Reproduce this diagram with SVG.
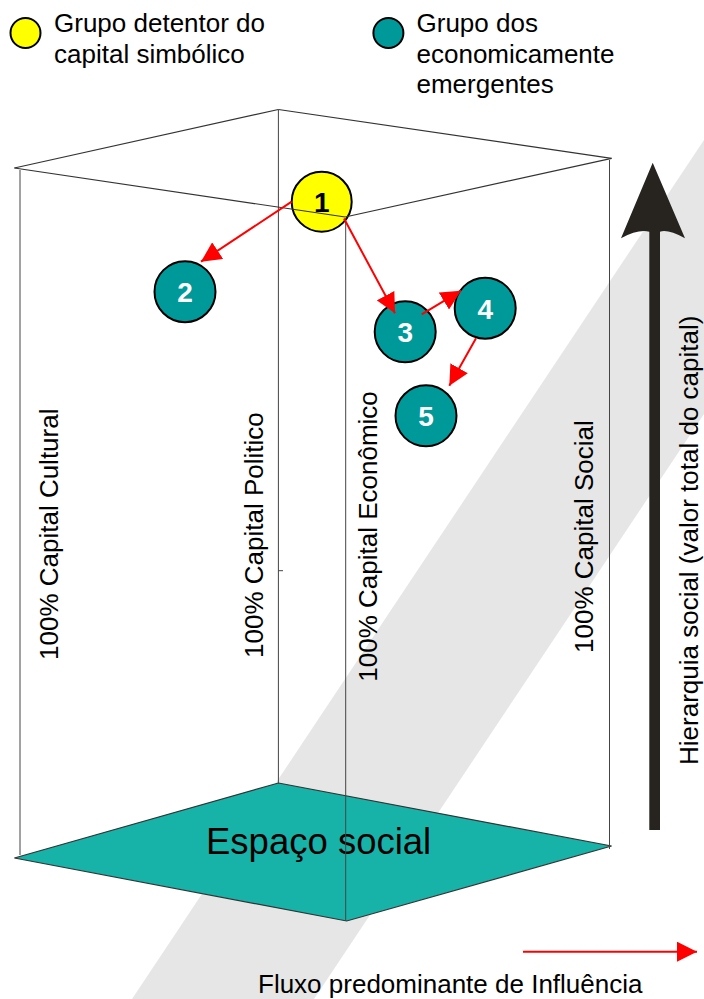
<svg xmlns="http://www.w3.org/2000/svg" width="704" height="999" viewBox="0 0 704 999">
<style>
text{font-family:"Liberation Sans",Arial,sans-serif;}
.lbl{font-size:26px;fill:#000;}
.edge{stroke:#333;stroke-width:1.2;fill:none;}
.vert{stroke:#444;stroke-width:1;fill:none;}
.node{fill:#009999;stroke:#000;stroke-width:2;}
.num{font-size:28px;font-weight:bold;fill:#fff;text-anchor:middle;}
.flow{stroke:#ff0000;stroke-width:2;fill:none;marker-end:url(#ah);}
</style>
<defs>
<marker id="ah" markerUnits="userSpaceOnUse" markerWidth="20" markerHeight="20" viewBox="0 0 20 20" refX="20" refY="10" orient="auto">
<path d="M0,0 L20,10 L0,20 z" fill="#ff0000"/>
</marker>
</defs>
<rect width="704" height="999" fill="#fff"/>
<!-- watermark band -->
<polygon points="704,140 704,414 314,999 132,999" fill="#e6e6e6"/>

<!-- legend -->
<g id="legend-symbolic">
<circle cx="25.5" cy="33" r="15" fill="#ffff00" stroke="#000" stroke-width="2"/>
<text class="lbl" x="54" y="31.7">Grupo detentor do</text>
<text class="lbl" x="54" y="62.5">capital simbólico</text>
</g>
<g id="legend-emergent">
<circle cx="388.4" cy="33" r="15" fill="#009999" stroke="#000" stroke-width="2"/>
<text class="lbl" x="416.5" y="31.7">Grupo dos</text>
<text class="lbl" x="416.5" y="62.5">economicamente</text>
<text class="lbl" x="416.5" y="93.3">emergentes</text>
</g>

<!-- floor -->
<g id="floor">
<polygon points="278.4,783 611.6,846 346.7,921 14.4,858" fill="#17b3a9" stroke="#333" stroke-width="1.2"/>
<text x="206" y="854" font-size="36.5">Espaço social</text>
</g>

<!-- box verticals -->
<g id="box">
<line class="vert" x1="20" y1="170" x2="20" y2="855"/>
<line class="vert" x1="278.4" y1="109.5" x2="278.4" y2="783"/>
<line class="vert" x1="278.4" y1="570.7" x2="283" y2="570.7"/>
<line class="vert" x1="345.7" y1="217" x2="345.7" y2="921"/>
<line class="vert" x1="609.5" y1="160" x2="609.5" y2="849"/>
<line class="edge" x1="14.4" y1="168" x2="278.4" y2="109.5"/>
<line class="edge" x1="278.4" y1="109.5" x2="611.6" y2="158.3"/>
</g>

<!-- axis labels -->
<g id="axis-labels">
<text class="lbl" transform="translate(57.5,660) rotate(-90)">100% Capital Cultural</text>
<text class="lbl" transform="translate(262.7,658) rotate(-90)">100% Capital Politico</text>
<text class="lbl" transform="translate(376.7,681.7) rotate(-90)">100% Capital Econômico</text>
<text class="lbl" transform="translate(593,653) rotate(-90)">100% Capital Social</text>
</g>

<!-- hierarchy arrow -->
<g id="hierarchy">
<path d="M652.7,162.7 L685,238.3 Q668,229 660,231.7 L660,830 L649.3,830 L649.3,231.7 Q638,229 621,238.3 Z" fill="#272420"/>
<text class="lbl" transform="translate(698,765) rotate(-90)">Hierarquia social (valor total do capital)</text>
</g>

<!-- nodes -->
<g id="node-1">
<circle cx="321.7" cy="201.7" r="30" fill="#ffff00" stroke="#000" stroke-width="2"/>
<text x="321.7" y="212" font-size="28" font-weight="bold" text-anchor="middle" fill="#000">1</text>
</g>
<g id="box-top-front">
<line class="edge" x1="14.4" y1="168" x2="345.2" y2="217"/>
<line class="edge" x1="345.2" y1="217" x2="611.6" y2="158.3"/>
</g>
<g id="node-2">
<circle class="node" cx="185" cy="291.7" r="30.5"/>
<text class="num" x="185" y="302">2</text>
</g>
<g id="node-3">
<circle class="node" cx="405.2" cy="331.8" r="30.5"/>
<text class="num" x="405.2" y="342">3</text>
</g>
<g id="node-4">
<circle class="node" cx="485.2" cy="308.2" r="30.5"/>
<text class="num" x="485.2" y="318.5">4</text>
</g>
<g id="node-5">
<circle class="node" cx="426" cy="415.8" r="30.5"/>
<text class="num" x="426" y="426">5</text>
</g>

<!-- connectors -->
<g id="connectors">
<line class="flow" x1="291.7" y1="201.7" x2="201" y2="261.7"/>
<line class="flow" x1="344" y1="218.5" x2="395" y2="313.3"/>
<line class="flow" x1="421.7" y1="314.3" x2="461" y2="290.7"/>
<line class="flow" x1="476" y1="338.3" x2="449.3" y2="385.7"/>
</g>

<!-- influence legend -->
<g id="influence-legend">
<line class="flow" x1="523" y1="951.7" x2="697" y2="951.7"/>
<text class="lbl" x="258" y="993">Fluxo predominante de Influência</text>
</g>
</svg>
